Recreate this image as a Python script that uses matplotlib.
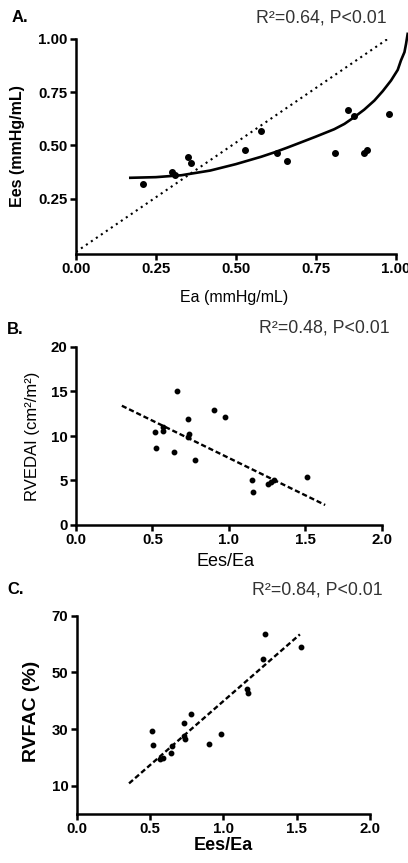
import matplotlib
matplotlib.use('Agg')
from matplotlib import pyplot as plt
from matplotlib.ticker import FormatStrFormatter

plt.rcParams['font.family'] = ['Liberation Sans', 'DejaVu Sans']

# panel A: Ees vs Ea
a_ea = [0.21, 0.30, 0.31, 0.35, 0.36, 0.53, 0.58, 0.63, 0.66, 0.81, 0.85, 0.87, 0.90, 0.91, 0.98]
a_ees = [0.317, 0.375, 0.362, 0.448, 0.417, 0.478, 0.566, 0.466, 0.428, 0.466, 0.668, 0.638, 0.466, 0.477, 0.647]
# fitted curve
fit_x = [0.17, 0.25, 0.33, 0.42, 0.50, 0.58, 0.62, 0.66, 0.70, 0.75, 0.808, 0.840, 0.871, 0.902,
         0.934, 0.960, 0.986, 1.007, 1.017, 1.028, 1.033, 1.038]
fit_y = [0.348, 0.351, 0.360, 0.382, 0.412, 0.447, 0.467, 0.489, 0.512, 0.541, 0.576, 0.601, 0.633, 0.668,
         0.711, 0.755, 0.805, 0.855, 0.899, 0.938, 0.977, 1.024]
ident_x = [0.0, 0.98]
ident_y = [0.0, 1.005]

# panel B: RVEDAI vs Ees/Ea
b_ratio = [0.66, 0.90, 0.975, 0.73, 0.567, 0.571, 0.517, 0.739, 0.731, 0.521, 0.643, 0.781,
           1.149, 1.156, 1.258, 1.274, 1.295, 1.513]
b_rvedai = [15.1, 12.9, 12.1, 11.9, 11.05, 10.6, 10.4, 10.2, 9.9, 8.6, 8.2, 7.3,
            5.06, 3.67, 4.6, 4.87, 5.02, 5.36]
b_line_x = [0.30, 1.63]
b_line_y = [13.4, 2.25]

# panel C: RVFAC vs Ees/Ea
c_ratio = [1.286, 1.527, 1.268, 1.159, 1.166, 0.781, 0.731, 0.516, 0.982, 0.73, 0.74,
           0.52, 0.902, 0.65, 0.645, 0.568, 0.59]
c_rvfac = [63.6, 59.1, 54.7, 44.0, 42.8, 35.2, 32.1, 29.2, 28.2, 27.5, 26.6,
           24.2, 24.7, 24.0, 21.6, 19.5, 19.7]
c_line_x = [0.357, 1.522]
c_line_y = [10.8, 63.4]


def style_axes(ax):
    for s in ['top', 'right']:
        ax.spines[s].set_visible(False)
    for s in ['left', 'bottom']:
        ax.spines[s].set_linewidth(1.8)
    ax.tick_params(direction='out', length=4, width=1.8, labelsize=10.8, pad=2)
    for lab in ax.get_xticklabels() + ax.get_yticklabels():
        lab.set_fontweight('bold')


fig = plt.figure(figsize=(4.08, 8.63), dpi=100)

# ---- A ----
axA = fig.add_axes([76 / 408, 1 - 254 / 863, 319.5 / 408, 215 / 863])
axA.plot(ident_x, ident_y, color='black', lw=1.5, linestyle=(0, (1, 1.9)))
axA.plot(fit_x, fit_y, color='black', lw=1.9, clip_on=False)
axA.plot(a_ea, a_ees, 'o', color='black', ms=4)
axA.set_xlim(0, 1)
axA.set_ylim(-0.01, 1.0)
axA.set_xticks([0, 0.25, 0.5, 0.75, 1.0])
axA.set_yticks([0.25, 0.5, 0.75, 1.0])
axA.xaxis.set_major_formatter(FormatStrFormatter('%.2f'))
axA.yaxis.set_major_formatter(FormatStrFormatter('%.2f'))
style_axes(axA)
axA.set_xlabel('Ea (mmHg/mL)', fontsize=11.5)
axA.set_ylabel('Ees (mmHg/mL)', fontsize=11.5, fontweight='bold')
axA.xaxis.set_label_coords(0.496, -0.167)
axA.yaxis.set_label_coords(-0.16, 0.5)

# ---- B ----
axB = fig.add_axes([76 / 408, 1 - 525 / 863, 305.7 / 408, 178 / 863])
axB.plot(b_line_x, b_line_y, color='black', lw=1.7, linestyle=(0, (2.2, 1.2)))
axB.plot(b_ratio, b_rvedai, 'o', color='black', ms=3.2)
axB.set_xlim(0, 2)
axB.set_ylim(0, 20)
axB.set_xticks([0, 0.5, 1.0, 1.5, 2.0])
axB.set_yticks([0, 5, 10, 15, 20])
axB.xaxis.set_major_formatter(FormatStrFormatter('%.1f'))
style_axes(axB)
axB.set_xlabel('Ees/Ea', fontsize=13)
axB.set_ylabel('RVEDAI (cm\u00b2/m\u00b2)', fontsize=12)
axB.xaxis.set_label_coords(0.49, -0.157)
axB.yaxis.set_label_coords(-0.118, 0.5)

# ---- C ----
axC = fig.add_axes([76.7 / 408, 1 - 814 / 863, 293.3 / 408, 198.3 / 863])
axC.plot(c_line_x, c_line_y, color='black', lw=1.7, linestyle=(0, (2.2, 1.2)))
axC.plot(c_ratio, c_rvfac, 'o', color='black', ms=3.2)
axC.set_xlim(0, 2)
axC.set_ylim(0, 70)
axC.set_xticks([0, 0.5, 1.0, 1.5, 2.0])
axC.set_yticks([10, 30, 50, 70])
axC.xaxis.set_major_formatter(FormatStrFormatter('%.1f'))
style_axes(axC)
axC.set_xlabel('Ees/Ea', fontsize=13, fontweight='bold')
axC.set_ylabel('RVFAC (%)', fontsize=14, fontweight='bold')
axC.xaxis.set_label_coords(0.5, -0.114)
axC.yaxis.set_label_coords(-0.125, 0.52)

# panel letters and stats
fig.text(12 / 408, 1 - 17 / 863, 'A.', fontsize=12, fontweight='bold', va='center')
fig.text(7 / 408, 1 - 329 / 863, 'B.', fontsize=12, fontweight='bold', va='center')
fig.text(7 / 408, 1 - 589 / 863, 'C.', fontsize=12, fontweight='bold', va='center')
fig.text(387 / 408, 1 - 18 / 863, 'R\u00b2=0.64, P<0.01', fontsize=12.8, color='#333333', ha='right', va='center')
fig.text(390 / 408, 1 - 328 / 863, 'R\u00b2=0.48, P<0.01', fontsize=12.8, color='#333333', ha='right', va='center')
fig.text(383 / 408, 1 - 590 / 863, 'R\u00b2=0.84, P<0.01', fontsize=12.8, color='#333333', ha='right', va='center')

fig.savefig('out.png', dpi=100)
